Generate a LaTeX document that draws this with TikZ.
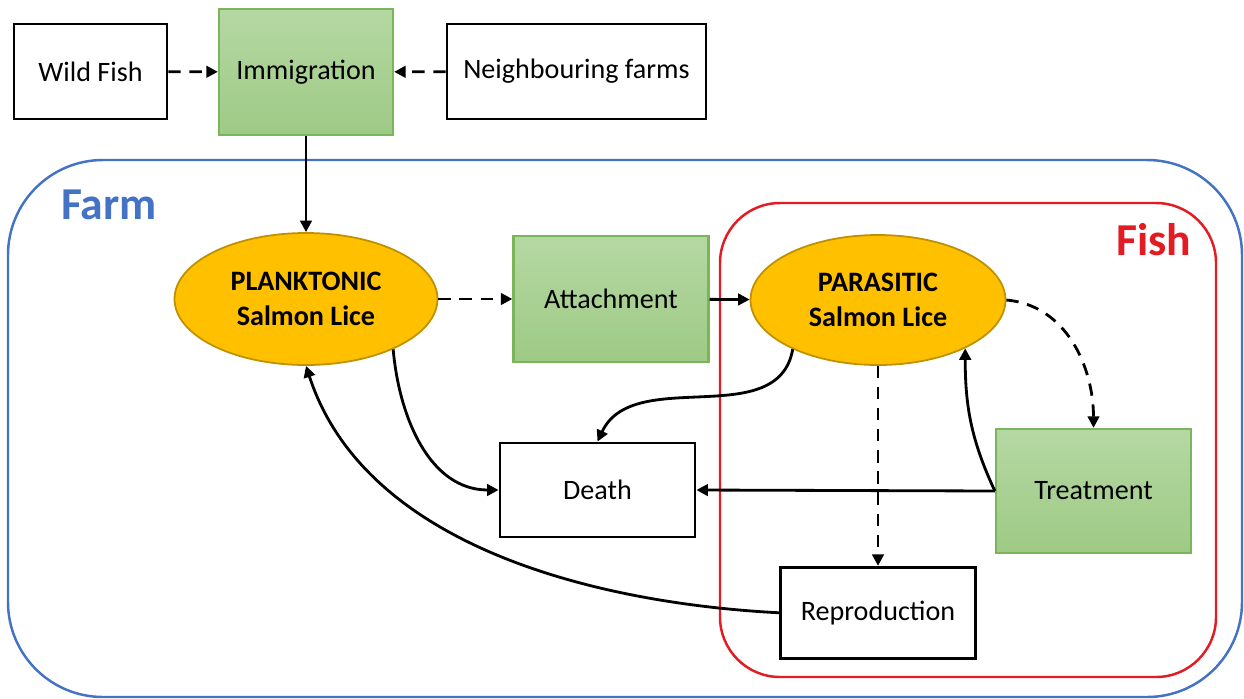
\documentclass[tikz,border=0pt]{standalone}
\usepackage{fontspec}
\setmainfont{Carlito}
\usetikzlibrary{arrows.meta, positioning, shapes.geometric}
\definecolor{farmblue}{HTML}{4472C4}
\definecolor{fishred}{HTML}{E31B23}
\definecolor{liceyellow}{HTML}{FFC000}
\definecolor{liceedge}{HTML}{BF9000}
\definecolor{greenedge}{HTML}{7AB55C}
\definecolor{greentop}{HTML}{B5D8A3}
\definecolor{greenbot}{HTML}{9ECA85}
\tikzset{
>={Triangle[length=6.5pt,width=6.5pt]}, % small filled arrow heads
every node/.style={font=\fontsize{16}{20}\selectfont}, % Calibri-like text everywhere
box/.style={draw, line width=1.6pt, minimum width=3.9cm, minimum height=1.88cm}, % plain white boxes
process/.style={draw=greenedge, line width=1.3pt, top color=greentop, bottom color=greenbot, minimum width=3.9cm, minimum height=2.52cm}, % green process boxes
lice/.style={ellipse, draw=liceedge, line width=1pt, fill=liceyellow, align=center, inner sep=0pt, font=\fontsize{16}{20}\selectfont\bfseries}, % the two lice stages
region/.style={draw, line width=1.4pt}, % farm and fish outlines
flow/.style={->, line width=1.6pt}, % certain transfer
maybe/.style={flow, dash pattern=on 7pt off 5pt}, % uncertain transfer
}
\begin{document}
\begin{tikzpicture}
\useasboundingbox (0,0) rectangle (24.88,-13.96);
% outlines
\node[region, draw=farmblue, rounded corners=1.9cm, minimum width=24.68cm, minimum height=10.74cm] (farm) at (12.5,-8.57) {};
\node[region, draw=fishred, rounded corners=1.2cm, minimum width=9.92cm, minimum height=9.48cm] (fish) at (19.36,-8.8) {};
\node[text=farmblue, font=\fontsize{26}{30}\selectfont\bfseries] (farmlabel) at (2.18,-4.1) {Farm};
\node[text=fishred, font=\fontsize{26}{30}\selectfont\bfseries] (fishlabel) at (23.08,-4.8) {Fish};
% sources
\node[box, minimum width=3.06cm, minimum height=1.9cm] (wild) at (1.81,-1.43) {Wild Fish};
\node[process, minimum width=3.48cm] (immig) at (6.12,-1.44) {Immigration};
\node[box, minimum width=5.18cm, minimum height=1.9cm] (neigh) at (11.53,-1.43) {Neighbouring farms};
% lice stages
\node[lice, minimum width=5.26cm, minimum height=2.64cm] (plank) at (6.12,-5.98) {PLANKTONIC\\Salmon Lice};
\node[process, right=1.48cm of plank] (attach) {Attachment};
\node[lice, minimum width=5.1cm, minimum height=2.6cm] (par) at (17.56,-6.0) {PARASITIC\\Salmon Lice};
% outcomes
\node[box] (death) at (11.95,-9.8) {Death};
\node[process, minimum height=2.48cm] (treat) at (21.87,-9.82) {Treatment};
\node[box, minimum height=1.82cm, below=4.0cm of par] (repro) {Reproduction};
\draw (wild) edge[maybe] (immig)
(neigh) edge[maybe] (immig)
(immig) edge[flow] (plank)
(plank) edge[maybe] (attach)
(attach) edge[flow] (par)
(par.east) edge[maybe, out=-5, in=90] (treat.north)
(par) edge[maybe] (repro)
(par.-150) edge[flow, out=-100, in=65] (death.north)
(plank.-30) edge[flow, out=-85, in=180] (death.west)
(treat.west) edge[flow] (death.east)
(treat.west) edge[flow, out=115, in=-90] (par.-29)
(repro.west) edge[flow, out=177, in=-72, looseness=0.9] (plank.south);
\end{tikzpicture}
\end{document}
